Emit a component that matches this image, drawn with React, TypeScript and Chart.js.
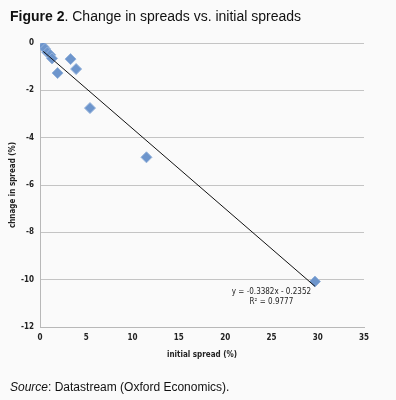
import React, { useEffect, useRef } from "react";
import { Chart, registerables } from "chart.js";

Chart.register(...registerables);

const initialSpread = [0.35, 0.55, 0.8, 1.1, 1.3, 1.9, 3.3, 3.9, 5.4, 11.5, 29.7];
const changeInSpread = [-0.15, -0.25, -0.4, -0.5, -0.65, -1.27, -0.68, -1.1, -2.75, -4.83, -10.08];
const trendSlope = -0.3382;
const trendIntercept = -0.2352;
const trendEquation = "y = -0.3382x - 0.2352";
const rSquaredLabel = "R² = 0.9777";
const xTicks = [0, 5, 10, 15, 20, 25, 30, 35];
const yTicks = [0, -2, -4, -6, -8, -10, -12];

const tickFont = { family: "'Liberation Sans Narrow', 'DejaVu Sans Condensed', sans-serif", size: 8, weight: "bold" as const };

export default function App() {
  const ref = useRef<HTMLCanvasElement | null>(null);
  useEffect(() => {
    if (!ref.current) return;
    const xMin = Math.min(...initialSpread);
    const xMax = Math.max(...initialSpread);
    const trend = [
      { x: xMin, y: trendSlope * xMin + trendIntercept },
      { x: xMax, y: trendSlope * xMax + trendIntercept },
    ];
    const eqPlugin = {
      id: "eq",
      afterDatasetsDraw(chart: any) {
        const { ctx, scales } = chart;
        const px = scales.x.getPixelForValue(25);
        const py = scales.y.getPixelForValue(-10.5);
        ctx.save();
        ctx.fillStyle = "#222";
        ctx.font = "8px 'Liberation Sans Narrow', 'DejaVu Sans Condensed', sans-serif";
        ctx.textAlign = "center";
        ctx.textBaseline = "middle";
        ctx.fillText(trendEquation, px, py);
        ctx.fillText(rSquaredLabel, px, py + 10);
        ctx.restore();
      },
    };
    const chart = new Chart(ref.current, {
      type: "scatter",
      data: {
        datasets: [
          {
            type: "line",
            data: trend,
            borderColor: "#111",
            borderWidth: 1,
            pointRadius: 0,
            fill: false,
          } as any,
          {
            data: initialSpread.map((x, i) => ({ x, y: changeInSpread[i] })),
            pointStyle: "rectRot",
            pointRadius: 5.5,
            backgroundColor: "#6d95cc",
            borderColor: "#94b2da",
            borderWidth: 1,
          },
        ],
      },
      options: {
        animation: false,
        responsive: false,
        plugins: { legend: { display: false }, tooltip: { enabled: false } },
        layout: { padding: { left: 8, right: 32, top: 43, bottom: 40 } },
        scales: {
          x: {
            type: "linear",
            min: 0,
            max: 35,
            afterBuildTicks: (s: any) => { s.ticks = xTicks.map((v) => ({ value: v })); },
            afterFit: (s: any) => { s.height = 33; },
            grid: { display: false, drawTicks: false },
            border: { color: "#b8b8b8", width: 1 },
            ticks: { color: "#222", font: tickFont, padding: 6 },
            title: { display: true, text: "initial spread (%)", color: "#222", font: tickFont, padding: { top: 3, bottom: 0 } },
          },
          y: {
            type: "linear",
            min: -12,
            max: 0,
            afterBuildTicks: (s: any) => { s.ticks = yTicks.map((v) => ({ value: v })); },
            afterFit: (s: any) => { s.width = 32; },
            grid: { color: "#c4c4c4", lineWidth: 1, drawTicks: false },
            border: { color: "#b8b8b8", width: 1 },
            ticks: { color: "#222", font: tickFont, padding: 6 },
            title: { display: true, text: "chnage in spread (%)", color: "#222", font: tickFont, padding: { top: 0, bottom: 6 } },
          },
        },
      },
      plugins: [eqPlugin],
    } as any);
    return () => chart.destroy();
  }, []);

  return (
    <div style={{ position: "fixed", left: 0, top: 0, width: 396, height: 400, background: "#fafafa", fontFamily: "'Liberation Sans', Arial, sans-serif" }}>
      <canvas ref={ref} width={396} height={400} style={{ position: "absolute", left: 0, top: 0 }} />
      <div style={{ position: "absolute", left: 10, top: 8, fontSize: 14, color: "#111", whiteSpace: "nowrap" }}>
        <b>Figure 2</b>. Change in spreads vs. initial spreads
      </div>
      <div style={{ position: "absolute", left: 10, top: 380, fontSize: 12, color: "#111", whiteSpace: "nowrap" }}>
        <i>Source</i>: Datastream (Oxford Economics).
      </div>
    </div>
  );
}
